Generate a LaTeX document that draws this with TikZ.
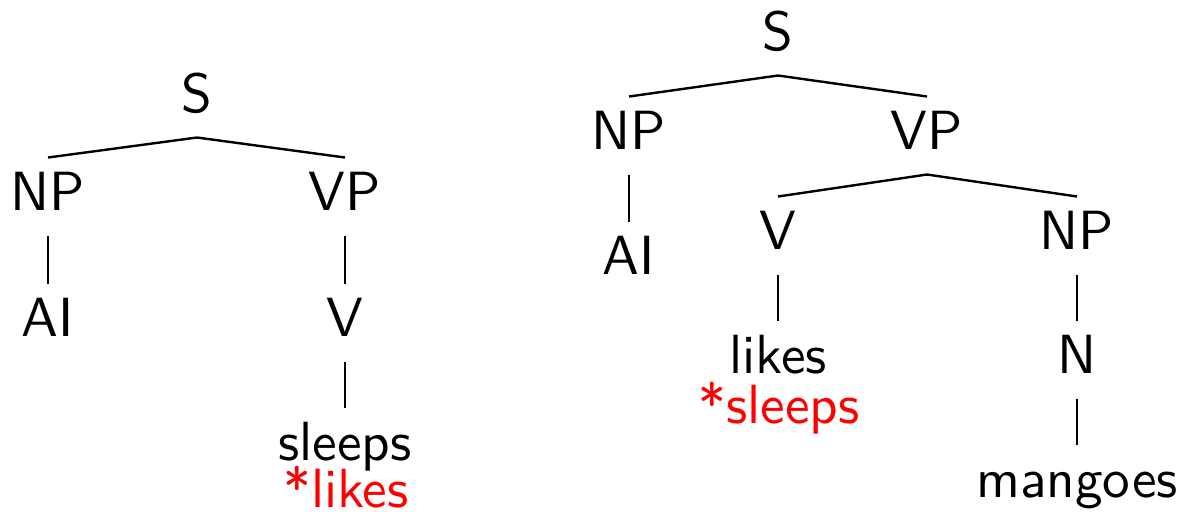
\documentclass[tikz,border=0pt]{standalone}
\usepackage{fontspec}
\setsansfont{lmsans10-regular.otf}
\usetikzlibrary{positioning}

\begin{document}
\begin{tikzpicture}[x=.5pt,y=.5pt,
  font=\sffamily\fontsize{27.6}{30}\selectfont,
  cat/.style={anchor=base,inner sep=5.8pt,text height=20.25pt,text depth=6.75pt},
  bad/.style={anchor=base,inner sep=0pt,text=red},
  edge/.style={draw=black,line width=1.2pt}]
\useasboundingbox (0,0) rectangle (1181,-511);

% Left tree: intransitive verb
\node[cat] (aS)    at (197,-112) {S};
\node[cat] (aNP)   at (48,-210)  {NP};
\node[cat] (aVP)   at (345,-210) {VP};
\node[cat] (aAI)   at (48,-336)  {AI};
\node[cat] (aV)    at (345,-336) {V};
\node[cat] (aword) at (345,-460) {sleeps};
\node[bad] (astar) at (346,-507) {*likes};

% Right tree: transitive verb
\node[cat] (bS)    at (778,-50)   {S};
\node[cat] (bNP)   at (629,-149)  {NP};
\node[cat] (bVP)   at (927,-149)  {VP};
\node[cat] (bAI)   at (629,-274)  {AI};
\node[cat] (bV)    at (778,-249)  {V};
\node[cat] (bobj)  at (1077,-249) {NP};
\node[cat] (bword) at (778,-373)  {likes};
\node[bad] (bstar) at (779,-423)  {*sleeps};
\node[cat] (bN)    at (1077,-373) {N};
\node[cat] (bmango) at (1077,-497) {mangoes};

\foreach \p/\c in {aS/aNP,aS/aVP,aNP/aAI,aVP/aV,aV/aword,
                   bS/bNP,bS/bVP,bNP/bAI,bVP/bV,bVP/bobj,bV/bword,bobj/bN,bN/bmango}{
  \draw[edge] (\p.south) -- (\c.north);
}
\end{tikzpicture}
\end{document}
